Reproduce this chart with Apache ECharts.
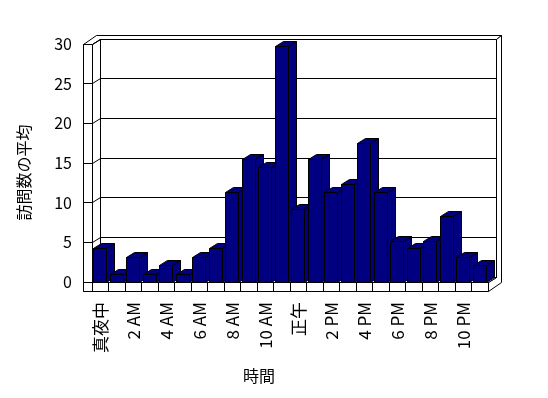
<!DOCTYPE html>
<html><head><meta charset="utf-8">
<script src="https://cdn.jsdelivr.net/npm/echarts/dist/echarts.min.js"></script>
<style>html,body{margin:0;padding:0;background:#fff}#c{width:548px;height:398px}</style>
</head><body><div id="c"></div>
<script>
const hours = ['真夜中','1 AM','2 AM','3 AM','4 AM','5 AM','6 AM','7 AM','8 AM','9 AM','10 AM','11 AM','正午','1 PM','2 PM','3 PM','4 PM','5 PM','6 PM','7 PM','8 PM','9 PM','10 PM','11 PM'];
const avgVisits = [4.2,1.0,3.1,1.0,2.1,1.0,3.1,4.2,11.3,15.4,14.4,29.7,9.2,15.4,11.3,12.3,17.4,11.3,5.1,4.2,5.1,8.2,3.1,2.1];
const valueTicks = [0,5,10,15,20,25,30];
const xTitle = '時間';
const yTitle = '訪問数の平均';

const FONT = "'Noto Sans CJK JP', sans-serif";
const DX = 8, DY = 5;      // depth of plot box
const TX = 5, TY = 4;      // wall thickness (depth direction)
const WALL = 9, FLOOR = 9; // front thickness of left wall and floor
const R = v => Math.round(v - 0.5) + 0.5;
const white = {fill:'#fff', stroke:'#000', lineWidth:1};

function frame(params) {
  const cs = params.coordSys;
  const x0 = R(cs.x), x1 = R(cs.x + cs.width), y0 = R(cs.y), y1 = R(cs.y + cs.height);
  const xl = x0 - WALL, yb = y1 + FLOOR;
  const bx0 = x0 + DX, bx1 = x1 + DX, by0 = y0 - DY, by1 = y1 - DY;
  const ox = x1 + DX + TX, oy = y0 - DY - TY;
  const P = pts => ({type:'polygon', shape:{points:pts}, style:white});
  return {type:'group', children:[
    P([[xl,y0],[x0,y0],[bx0,by0],[bx1,by0],[ox,oy],[xl+DX+TX,oy]]),
    P([[bx1,by0],[ox,oy],[ox,y1-DY-TY+FLOOR],[x1,yb],[x1,y1],[bx1,by1]]),
    {type:'rect', shape:{x:bx0, y:by0, width:bx1-bx0, height:by1-by0}, style:white},
    P([[x0,y0],[bx0,by0],[bx0,by1],[x0,y1]]),
    P([[x0,y1],[x1,y1],[bx1,by1],[bx0,by1]]),
    {type:'rect', shape:{x:xl, y:y0, width:WALL, height:yb-y0}, style:white},
    {type:'rect', shape:{x:xl, y:y1, width:x1-xl, height:FLOOR}, style:white}
  ]};
}

function gridLine(params, api) {
  const cs = params.coordSys;
  const x0 = R(cs.x), x1 = R(cs.x + cs.width);
  const y = R(api.coord([0, api.value(1)])[1]);
  return {type:'polyline', shape:{points:[[x0-WALL,y],[x0,y],[x0+DX,y-DY],[x1+DX,y-DY]]},
          style:{stroke:'#000', lineWidth:1, fill:null}};
}

function bar3d(params, api) {
  const i = api.value(0), v = api.value(1);
  const base = api.coord([i, 0]), top = api.coord([i, v]);
  const band = api.size([1, 0])[0];
  const w = band * 0.8;
  const xl = R(base[0] - w / 2), xr = R(base[0] + w / 2);
  const yb = R(base[1]), yt = R(top[1]);
  const st = {fill:'#000080', stroke:'#000', lineWidth:1};
  return {type:'group', children:[
    {type:'polygon', shape:{points:[[xl,yt],[xr,yt],[xr+DX,yt-DY],[xl+DX,yt-DY]]}, style:st},
    {type:'polygon', shape:{points:[[xr,yt],[xr+DX,yt-DY],[xr+DX,yb-DY],[xr,yb]]}, style:st},
    {type:'rect', shape:{x:xl, y:yt, width:xr-xl, height:yb-yt}, style:st}
  ]};
}

const chart = echarts.init(document.getElementById('c'), null, {renderer:'canvas'});
chart.setOption({
  animation: false,
  backgroundColor: '#fff',
  textStyle: {fontFamily: FONT},
  grid: {left: 92, right: 60, top: 44, bottom: 116, containLabel: false},
  xAxis: {
    type: 'category', data: hours,
    axisLine: {show: true, lineStyle: {color: '#000', width: 1}},
    axisTick: {show: true, length: FLOOR, interval: 0, lineStyle: {color: '#000'}},
    axisLabel: {interval: 1, rotate: 90, margin: 20, color: '#000', fontSize: 17, fontFamily: FONT},
    name: xTitle, nameLocation: 'middle', nameGap: 86,
    nameTextStyle: {color: '#000', fontSize: 16, fontFamily: FONT, padding: [0, 62, 0, 0]},
    z: 1
  },
  yAxis: {
    type: 'value', min: 0, max: 30, interval: 5,
    axisLine: {show: false}, axisTick: {show: false}, splitLine: {show: false},
    axisLabel: {margin: 20, color: '#000', fontSize: 16, fontFamily: FONT},
    name: yTitle, nameLocation: 'middle', nameRotate: 90, nameGap: 60,
    nameTextStyle: {color: '#000', fontSize: 16, fontFamily: FONT, padding: [0, 19, 0, 0]}
  },
  series: [
    {type: 'custom', coordinateSystem: 'cartesian2d', renderItem: frame, data: [[0, 0]], z: -1, silent: true},
    {type: 'custom', coordinateSystem: 'cartesian2d', renderItem: gridLine,
     data: valueTicks.map(v => [0, v]), z: 3, silent: true},
    {type: 'custom', coordinateSystem: 'cartesian2d', renderItem: bar3d,
     data: avgVisits.map((v, i) => [i, v]), z: 4}
  ]
});
</script></body></html>
